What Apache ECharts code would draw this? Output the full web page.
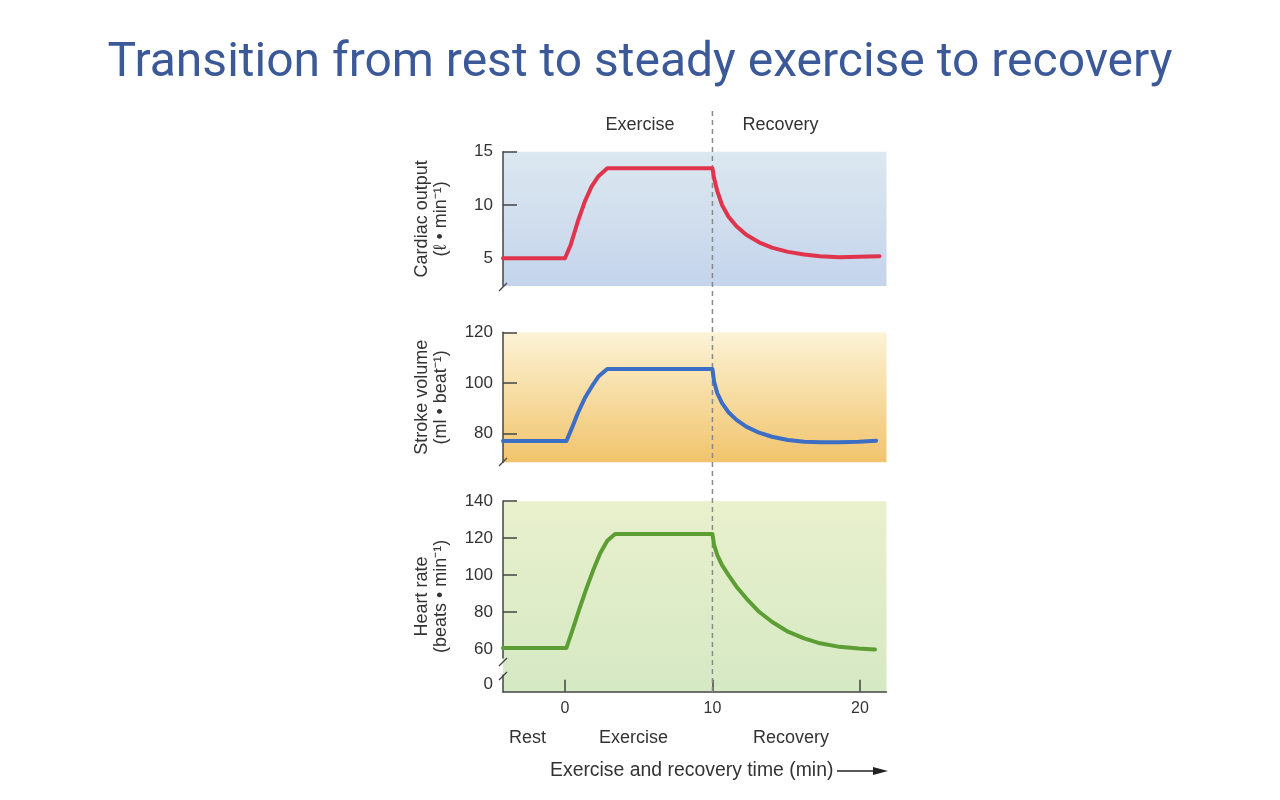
<!DOCTYPE html>
<html><head><meta charset="utf-8">
<script src="https://cdn.jsdelivr.net/npm/echarts@6/dist/echarts.min.js"></script>
<style>html,body{margin:0;padding:0;background:#fff}#c{width:1280px;height:800px}</style>
</head><body><div id="c"></div>
<script>
// ---------- data ----------
const titleText = 'Transition from rest to steady exercise to recovery';
const phaseBoundary = 10;              // end of exercise (min)
const xRange = [-4.2, 21.8];
const xTicks = [0, 10, 20];

const coTime  = [-4.2, 0, 0.4, 0.87, 1.34, 1.81, 2.27, 2.87, 10, 10.11, 10.33, 10.65, 11.09, 11.63, 12.29, 13.16, 14.03, 15.12, 16.21, 17.3, 18.61, 19.92, 21.33];
const coValue = [5.0, 5.0, 6.3, 8.45, 10.3, 11.75, 12.7, 13.45, 13.45, 12.5, 11.3, 10.0, 8.9, 8.0, 7.2, 6.5, 6.0, 5.6, 5.35, 5.2, 5.1, 5.15, 5.2];
const coTicks = [5, 10, 15];

const svTime  = [-4.2, 0.1, 0.51, 0.87, 1.34, 1.81, 2.27, 2.87, 10, 10.11, 10.33, 10.65, 11.09, 11.63, 12.29, 13.16, 14.03, 15.12, 16.21, 17.3, 18.61, 19.92, 21.1];
const svValue = [77, 77, 82.7, 88.0, 93.9, 98.5, 102.5, 105.5, 105.5, 100.5, 95.9, 92.0, 88.4, 85.35, 82.7, 80.3, 78.7, 77.4, 76.75, 76.5, 76.5, 76.75, 77.15];
const svTicks = [80, 100, 120];

const hrTime  = [-4.2, 0.1, 0.51, 0.99, 1.46, 1.92, 2.39, 2.87, 3.4, 10, 10.11, 10.33, 10.65, 11.09, 11.63, 12.29, 13.16, 14.03, 15.12, 16.21, 17.3, 18.61, 19.92, 21.02];
const hrValue = [60.5, 60.5, 70.2, 82, 92.8, 102.7, 111.8, 118.6, 122.2, 122.2, 116.3, 110.8, 105.4, 100, 93.7, 87.4, 80.1, 74.7, 69.3, 65.7, 63, 61.1, 60.2, 59.7];
const hrLabels = [0, 60, 80, 100, 120, 140];
const hrTickMarks = [60, 80, 100, 120, 140];

const topPhaseLabels = ['Exercise', 'Recovery'];
const bottomPhaseLabels = ['Rest', 'Exercise', 'Recovery'];
const xAxisTitle = 'Exercise and recovery time (min)';
const yNames = ['Cardiac output\n(ℓ • min⁻¹)', 'Stroke volume\n(ml • beat⁻¹)', 'Heart rate\n(beats • min⁻¹)'];

// ---------- chart ----------
const zip = (a, b) => a.map((t, i) => [t, b[i]]);
const FONT = 'Liberation Sans, Arial, sans-serif';
const AX = '#444';
const TXT = '#333';

function grad(c0, c1) {
  return new echarts.graphic.LinearGradient(0, 0, 0, 1, [{offset: 0, color: c0}, {offset: 1, color: c1}]);
}
const L = 503, R = 1280 - 886.5;
const grids = [
  {left: L, right: R, top: 151.7, bottom: 800 - 286, show: true, borderWidth: 0, backgroundColor: grad('#dce8f0', '#c4d4eb')},
  {left: L, right: R, top: 332.3, bottom: 800 - 462.3, show: true, borderWidth: 0, backgroundColor: grad('#fcf3d6', '#f1c46c')},
  {left: L, right: R, top: 501.2, bottom: 800 - 691.7, show: true, borderWidth: 0, backgroundColor: grad('#e9f0cc', '#d5e9c4')},
  {left: L, right: R, top: 110, bottom: 800 - 692}
];
grids.forEach(g => g.outerBoundsMode = 'none');

function hiddenX(i) {
  return {type: 'value', gridIndex: i, min: xRange[0], max: xRange[1], show: false, splitLine: {show: false}};
}
function yAx(i, min, max, ticks, labels, name, extra) {
  return Object.assign({
    type: 'value', gridIndex: i, min: min, max: max, position: 'left',
    axisLine: {show: true, onZero: false, lineStyle: {color: AX, width: 1.5}},
    axisTick: {show: true, inside: true, length: 14, customValues: ticks, lineStyle: {color: AX, width: 1.5}},
    axisLabel: {show: true, customValues: labels, fontSize: 17, color: TXT, margin: 10, fontFamily: FONT},
    splitLine: {show: false},
    name: name, nameLocation: 'middle', nameRotate: 90, nameGap: 52,
    nameTextStyle: {fontSize: 18, lineHeight: 19, color: TXT, fontFamily: FONT}
  }, extra || {});
}

const option = {
  animation: false,
  backgroundColor: '#fff',
  title: {
    text: titleText, left: 'center', top: 35,
    textStyle: {fontSize: 48, fontWeight: 'normal', color: '#3b5998', fontFamily: 'Roboto, sans-serif'}
  },
  grid: grids,
  xAxis: [
    hiddenX(0), hiddenX(1),
    {
      type: 'value', gridIndex: 2, min: xRange[0], max: xRange[1], position: 'bottom',
      axisLine: {show: true, onZero: false, lineStyle: {color: AX, width: 1.5}},
      axisTick: {show: true, inside: true, length: 12, customValues: xTicks, lineStyle: {color: AX, width: 1.5}},
      axisLabel: {show: true, customValues: xTicks, fontSize: 16, color: TXT, margin: 9, fontFamily: FONT},
      splitLine: {show: false}
    },
    hiddenX(3)
  ],
  yAxis: [
    yAx(0, 2.4, 15, coTicks, coTicks, yNames[0]),
    yAx(1, 68.6, 120, svTicks, svTicks, yNames[1]),
    yAx(2, -4.2, 140, hrTickMarks, hrLabels, yNames[2], {
      breaks: [{start: 5, end: 55, gap: 9}],
      breakArea: {show: false}
    }),
    {type: 'value', gridIndex: 3, min: 0, max: 1, show: false, splitLine: {show: false}}
  ],
  series: [
    {type: 'line', xAxisIndex: 3, yAxisIndex: 3, data: [[phaseBoundary, 0], [phaseBoundary, 1]], symbol: 'none', silent: true, z: 2,
     lineStyle: {color: '#8a8a8a', width: 1.5, type: [5, 4]}},
    {type: 'line', xAxisIndex: 0, yAxisIndex: 0, data: zip(coTime, coValue), symbol: 'none', z: 3,
     lineStyle: {color: '#e0344c', width: 4, cap: 'round', join: 'round'}},
    {type: 'line', xAxisIndex: 1, yAxisIndex: 1, data: zip(svTime, svValue), symbol: 'none', z: 3,
     lineStyle: {color: '#3b6ec4', width: 4, cap: 'round', join: 'round'}},
    {type: 'line', xAxisIndex: 2, yAxisIndex: 2, data: zip(hrTime, hrValue), symbol: 'none', z: 3,
     lineStyle: {color: '#5c9e34', width: 4, cap: 'round', join: 'round'}}
  ],
  graphic: [
    {type: 'text', x: 640, y: 125, z: 10, style: {text: topPhaseLabels[0], align: 'center', verticalAlign: 'middle', fontSize: 18, fill: TXT, fontFamily: FONT}},
    {type: 'text', x: 780.5, y: 125, z: 10, style: {text: topPhaseLabels[1], align: 'center', verticalAlign: 'middle', fontSize: 18, fill: TXT, fontFamily: FONT}},
    {type: 'text', x: 527.5, y: 738, z: 10, style: {text: bottomPhaseLabels[0], align: 'center', verticalAlign: 'middle', fontSize: 18, fill: TXT, fontFamily: FONT}},
    {type: 'text', x: 633.5, y: 738, z: 10, style: {text: bottomPhaseLabels[1], align: 'center', verticalAlign: 'middle', fontSize: 18, fill: TXT, fontFamily: FONT}},
    {type: 'text', x: 791, y: 738, z: 10, style: {text: bottomPhaseLabels[2], align: 'center', verticalAlign: 'middle', fontSize: 18, fill: TXT, fontFamily: FONT}},
    {type: 'text', x: 550, y: 771, z: 10, style: {text: xAxisTitle, align: 'left', verticalAlign: 'middle', fontSize: 19.4, fill: TXT, fontFamily: FONT}},
    {type: 'line', z: 10, shape: {x1: 837, y1: 771, x2: 878, y2: 771}, style: {stroke: '#222', lineWidth: 1.5}},
    {type: 'polygon', z: 10, shape: {points: [[873, 767], [888, 771], [873, 775]]}, style: {fill: '#222'}},
    // axis-break marks
    {type: 'line', z: 10, shape: {x1: 499, y1: 291, x2: 507, y2: 283}, style: {stroke: AX, lineWidth: 1.3}},
    {type: 'line', z: 10, shape: {x1: 499, y1: 466, x2: 507, y2: 458}, style: {stroke: AX, lineWidth: 1.3}},
    {type: 'line', z: 10, shape: {x1: 499, y1: 666, x2: 507, y2: 658}, style: {stroke: AX, lineWidth: 1.3}},
    {type: 'line', z: 10, shape: {x1: 499, y1: 680, x2: 507, y2: 672}, style: {stroke: AX, lineWidth: 1.3}}
  ]
};
const chart = echarts.init(document.getElementById('c'), null, {renderer: 'canvas'});
chart.setOption(option);
</script></body></html>
